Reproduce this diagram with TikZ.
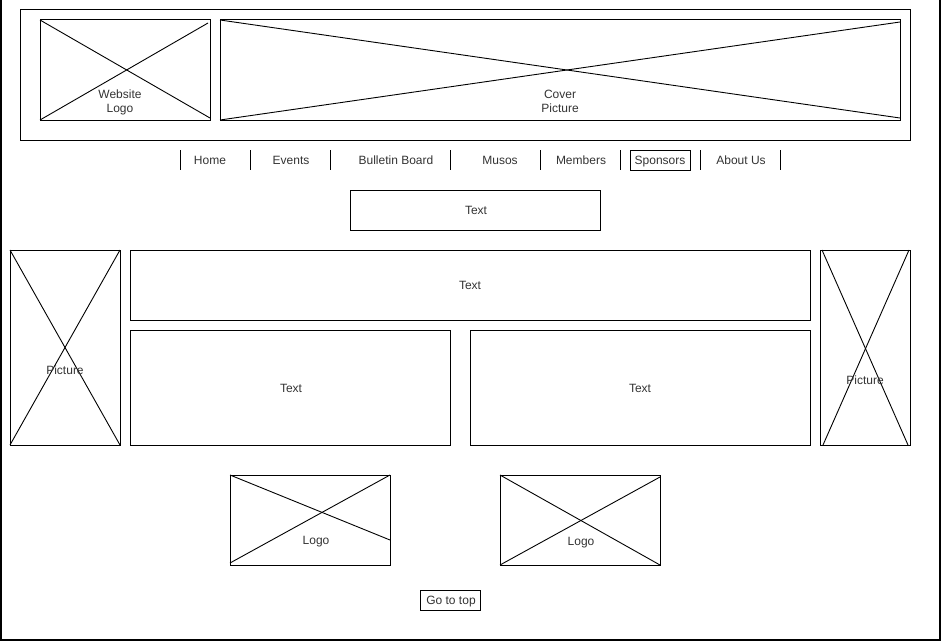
\documentclass[tikz,border=0pt]{standalone}
\usepackage{fontspec}
\setmainfont{Liberation Sans}
\begin{document}
\begin{tikzpicture}[x=1pt,y=-1pt,
  box/.style={draw=black,line width=1pt,inner sep=0pt,outer sep=0pt,fill=none},
  lbl/.style={text=black!80,font=\fontsize{12}{14}\selectfont,inner sep=0pt,align=center,text height=9pt,text depth=0pt},
  xline/.style={draw=black,line width=0.9pt},
  sep/.style={draw=black,line width=1pt}]
\useasboundingbox (0,0) rectangle (942,642);
% outer frame
\coordinate (fa) at (1,0);
\coordinate (fb) at (1,640);
\coordinate (fc) at (940,640);
\coordinate (fd) at (940,0);
\draw[line width=1.3pt] (fa) -- (fb) -- (fc) -- (fd);
% header
\node[box,minimum width=890,minimum height=130] (hdr) at (465,75) {};
\node[box,minimum width=170,minimum height=100] (wl) at (125,70) {};
\draw[xline] (wl.north west) -- ([yshift=2pt]wl.south east);
\draw[xline] (wl.south west) -- ([xshift=-2pt,yshift=-3pt]wl.north east);
\node[lbl] (wlt) at (120,107.5) {Website\\Logo};
\node[box,minimum width=680,minimum height=100] (cv) at (560,70) {};
\draw[xline] (cv.north west) -- ([yshift=2pt]cv.south east);
\draw[xline] (cv.south west) -- ([yshift=-2pt]cv.north east);
\node[lbl] (cvt) at (560,107.5) {Cover\\Picture};
% nav
\foreach \x [count=\i] in {180,250,330,450,540,620,700,780}{
  \coordinate (s\i a) at (\x,150);
  \coordinate (s\i b) at (\x,170);
  \draw[sep] (s\i a) -- (s\i b);
}
\node[lbl] (n1) at (210,160) {Home};
\node[lbl] (n2) at (291,160) {Events};
\node[lbl] (n3) at (396,160) {Bulletin Board};
\node[lbl] (n4) at (500,160) {Musos};
\node[lbl] (n5) at (581,160) {Members};
\node[box,minimum width=60,minimum height=20] (spb) at (660,160) {};
\node[lbl] (n6) at (660,160) {Sponsors};
\node[lbl] (n7) at (741,160) {About Us};
% text box
\node[box,minimum width=250,minimum height=40] (t0) at (475,210) {};
\node[lbl] (t0t) at (476,210) {Text};
% left picture
\node[box,minimum width=110,minimum height=195] (lp) at (65,347.5) {};
\draw[xline] (lp.north west) -- (lp.south east);
\draw[xline] (lp.south west) -- (lp.north east);
\node[lbl] (lpt) at (65,370) {Picture};
% text boxes
\node[box,minimum width=680,minimum height=70] (t1) at (470,285) {};
\node[lbl] (t1t) at (470,285) {Text};
\node[box,minimum width=320,minimum height=115] (t2) at (290,387.5) {};
\node[lbl] (t2t) at (291,388) {Text};
\node[box,minimum width=340,minimum height=115] (t3) at (640,387.5) {};
\node[lbl] (t3t) at (640,388) {Text};
% right picture
\node[box,minimum width=90,minimum height=195] (rp) at (865,347.5) {};
\draw[xline] ([xshift=2pt]rp.north west) -- ([xshift=-2pt]rp.south east);
\draw[xline] ([xshift=3pt]rp.south west) -- ([xshift=-1pt]rp.north east);
\node[lbl] (rpt) at (865,380) {Picture};
% logos
\node[box,minimum width=160,minimum height=90] (lg1) at (310,520) {};
\draw[xline] (lg1.north west) -- ([yshift=25pt]lg1.south east);
\draw[xline] ([yshift=2pt]lg1.south west) -- (lg1.north east);
\node[lbl] (lg1t) at (316,540) {Logo};
\node[box,minimum width=160,minimum height=90] (lg2) at (580,520) {};
\draw[xline] (lg2.north west) -- (lg2.south east);
\draw[xline] (lg2.south west) -- ([yshift=-2pt]lg2.north east);
\node[lbl] (lg2t) at (581,541) {Logo};
% go to top
\node[box,minimum width=60,minimum height=20] (gt) at (450,600) {};
\node[lbl] (gtt) at (451,600) {Go to top};
\end{tikzpicture}
\end{document}
